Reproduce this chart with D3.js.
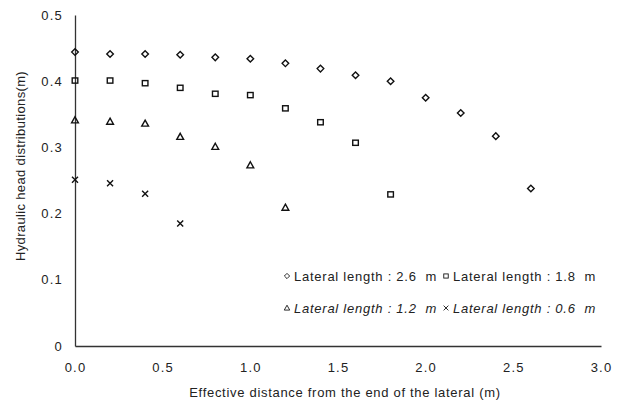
<!DOCTYPE html>
<html>
<head>
<meta charset="utf-8">
<script src="https://cdn.jsdelivr.net/npm/d3@7"></script>
<style>
  body { margin: 0; background: #fff; }
  text { font-family: "Liberation Sans", Arial, sans-serif; fill: #222; white-space: pre; }
</style>
</head>
<body>
<div class="chart"></div>
<script>
const width = 622;
const height = 406;

// distances from the lateral end (m), every 0.2 m
const dist26 = [0, 0.2, 0.4, 0.6, 0.8, 1.0, 1.2, 1.4, 1.6, 1.8, 2.0, 2.2, 2.4, 2.6];
const head26 = [0.444, 0.441, 0.441, 0.44, 0.436, 0.434, 0.427, 0.419, 0.409, 0.400, 0.375, 0.352, 0.317, 0.238];
const dist18 = [0, 0.2, 0.4, 0.6, 0.8, 1.0, 1.2, 1.4, 1.6, 1.8];
const head18 = [0.401, 0.401, 0.397, 0.390, 0.381, 0.379, 0.359, 0.338, 0.307, 0.229];
const dist12 = [0, 0.2, 0.4, 0.6, 0.8, 1.0, 1.2];
const head12 = [0.341, 0.339, 0.336, 0.316, 0.301, 0.273, 0.209];
const dist06 = [0, 0.2, 0.4, 0.6];
const head06 = [0.251, 0.246, 0.230, 0.185];

const xTicks = [0, 0.5, 1.0, 1.5, 2.0, 2.5, 3.0];
const yTicks = [0, 0.1, 0.2, 0.3, 0.4, 0.5];

const series = [
  {name: 'Lateral length : 2.6  m', shape: 'diamond', x: dist26, y: head26},
  {name: 'Lateral length : 1.8  m', shape: 'square', x: dist18, y: head18},
  {name: 'Lateral length : 1.2  m', shape: 'triangle', x: dist12, y: head12},
  {name: 'Lateral length : 0.6  m', shape: 'cross', x: dist06, y: head06},
];

const margin = {left: 75, right: 20, top: 15, bottom: 60};

const svg = d3.select('div.chart')
    .append('svg')
    .attr('width', width)
    .attr('height', height);

const x = d3.scaleLinear().domain([0, 3]).range([margin.left, width - margin.right - 1]);
const y = d3.scaleLinear().domain([0, 0.5]).range([height - margin.bottom, margin.top]);

// axes without tick marks, just the line and labels
svg.append('g')
    .attr('transform', 'translate(0,' + y(0) + ')')
    .call(d3.axisBottom(x).tickValues(xTicks).tickSize(0).tickPadding(17).tickFormat(d3.format('.1f')));
svg.append('g')
    .attr('transform', 'translate(' + x(0) + ',0)')
    .call(d3.axisLeft(y).tickValues(yTicks).tickSize(0).tickPadding(12)
        .tickFormat(function(d) { return d === 0 ? '0' : d3.format('.1f')(d); }));

svg.selectAll('.domain').attr('stroke', '#333').attr('stroke-width', 1.3);
svg.selectAll('.tick text')
    .attr('font-size', '13px')
    .attr('letter-spacing', '1.2px')
    .attr('font-family', '"Liberation Sans", Arial, sans-serif')
    .attr('fill', '#333');

svg.append('text')
    .attr('x', 345)
    .attr('y', 397)
    .attr('text-anchor', 'middle')
    .attr('font-size', '13px')
    .attr('letter-spacing', '0.7px')
    .text('Effective distance from the end of the lateral (m)');

svg.append('text')
    .attr('transform', 'translate(25,166) rotate(-90)')
    .attr('text-anchor', 'middle')
    .attr('font-size', '13px')
    .attr('letter-spacing', '0.35px')
    .text('Hydraulic head distributions(m)');

function marker(sel, shape, k) {
  if (shape === 'diamond') {
    sel.append('path').attr('d', 'M0,-3.3L3.3,0L0,3.3L-3.3,0Z');
  } else if (shape === 'square') {
    sel.append('rect').attr('x', -2.8).attr('y', -2.6).attr('width', 5.6).attr('height', 5.2);
  } else if (shape === 'triangle') {
    sel.append('path').attr('d', 'M0,-3.5L3.4,2.6L-3.4,2.6Z');
  } else {
    sel.append('path').attr('d', 'M-3,-3L3,3M-3,3L3,-3');
  }
  sel.selectAll('*')
      .attr('fill', 'none')
      .attr('stroke', '#111')
      .attr('stroke-width', 1.4);
  if (k) sel.attr('transform', sel.attr('transform') + ' scale(' + k + ')');
}

series.forEach(function(s) {
  svg.append('g')
      .selectAll('g')
      .data(s.x.map(function(d, i) { return [d, s.y[i]]; }))
      .enter()
      .append('g')
      .attr('transform', function(d) { return 'translate(' + x(d[0]) + ',' + y(d[1]) + ')'; })
      .each(function() { marker(d3.select(this), s.shape); });
});

// legend, two entries per row
const legendRows = [[series[0], series[1]], [series[2], series[3]]];
legendRows.forEach(function(row, r) {
  const g = svg.append('g').attr('transform', 'translate(287,' + (276 + r * 32) + ')');
  let cx = 0;
  row.forEach(function(s) {
    const m = g.append('g').attr('transform', 'translate(' + cx + ',0)');
    marker(m, s.shape, 0.8);
    m.selectAll('*').attr('stroke-width', 1.1);
    const t = g.append('text')
        .attr('x', cx + 7)
        .attr('y', 4.5)
        .attr('font-size', '13px')
        .attr('letter-spacing', '0.75px')
        .attr('font-style', r === 1 ? 'italic' : 'normal')
        .text(s.name);
    cx += 7 + t.node().getComputedTextLength() + 9;
  });
});
</script>
</body>
</html>
